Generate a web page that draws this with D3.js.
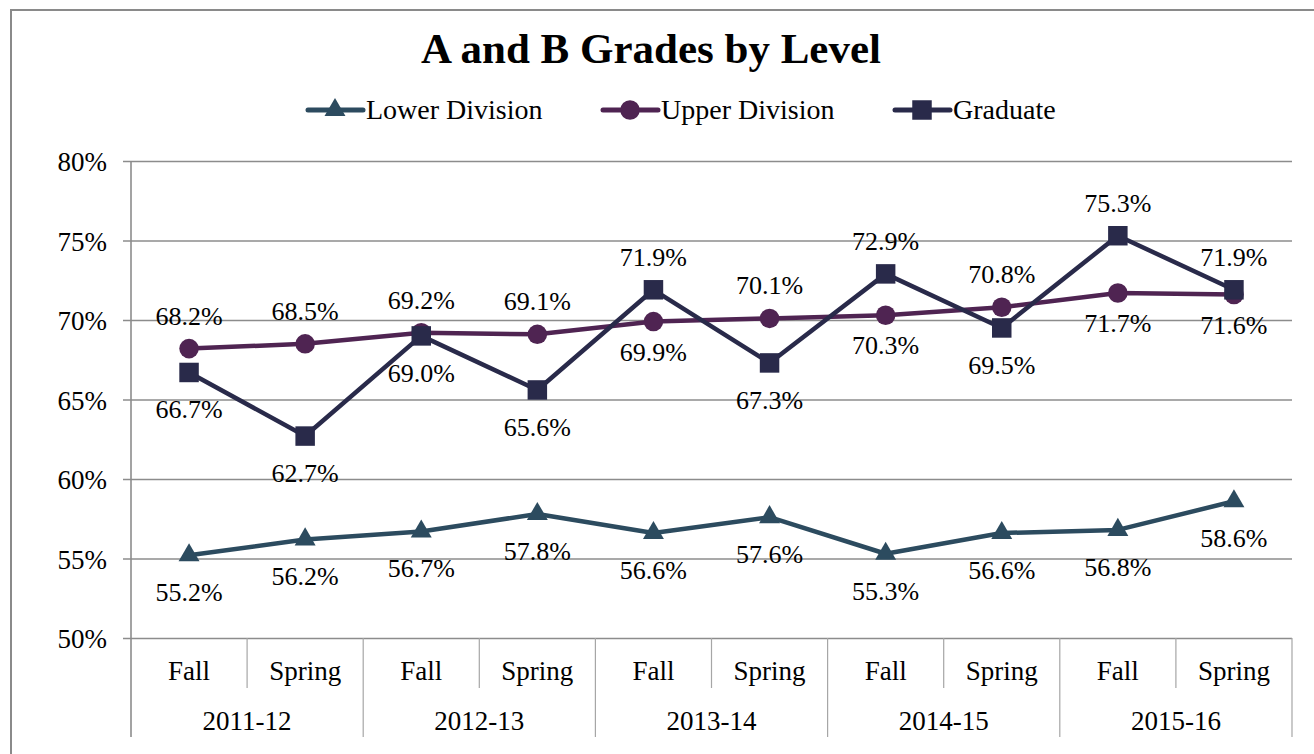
<!DOCTYPE html>
<html>
<head>
<meta charset="utf-8">
<script src="https://cdn.jsdelivr.net/npm/d3@7"></script>
<style>
  body { margin: 0; background: #fff; }
  text { font-family: "Liberation Serif", "Times New Roman", serif; fill: #000; }
</style>
</head>
<body>
<script>
// data
var terms = ["Fall", "Spring", "Fall", "Spring", "Fall", "Spring", "Fall", "Spring", "Fall", "Spring"]
var years = ["2011-12", "2012-13", "2013-14", "2014-15", "2015-16"]
var lowerDiv = [55.2, 56.2, 56.7, 57.8, 56.6, 57.6, 55.3, 56.6, 56.8, 58.6]
var upperDiv = [68.2, 68.5, 69.2, 69.1, 69.9, 70.1, 70.3, 70.8, 71.7, 71.6]
var graduate = [66.7, 62.7, 69.0, 65.6, 71.9, 67.3, 72.9, 69.5, 75.3, 71.9]
// where excel put each data label
var lowerPos = ["b", "b", "b", "b", "b", "b", "b", "b", "b", "b"]
var upperPos = ["a", "a", "a", "a", "b", "a", "b", "a", "b", "b"]
var gradPos = ["b", "b", "b", "b", "a", "b", "a", "b", "a", "a"]
var yTicks = [50, 55, 60, 65, 70, 75, 80]

var series = [
  {name: "Lower Division", values: lowerDiv, pos: lowerPos, color: "#2c4b5f", shape: d3.symbolTriangle, size: 190, lx: 308, below: 46},
  {name: "Upper Division", values: upperDiv, pos: upperPos, color: "#4f2452", shape: d3.symbolCircle, size: 300, lx: 603, below: 39},
  {name: "Graduate", values: graduate, pos: gradPos, color: "#292a4a", shape: d3.symbolSquare, size: 380, lx: 895, below: 46}
]

var W = 1314, H = 754
var plotL = 131, plotR = 1292, plotT = 161, plotB = 638

var svg = d3.select("body").append("svg")
  .attr("width", W)
  .attr("height", H)

svg.append("rect")
  .attr("x", 11).attr("y", 10)
  .attr("width", 1330).attr("height", 770)
  .attr("fill", "none")
  .attr("stroke", "#8a8a8a")
  .attr("stroke-width", 2)

svg.append("text").text("A and B Grades by Level")
  .attr("x", 651).attr("y", 63)
  .attr("text-anchor", "middle")
  .style("font-size", "43px")
  .style("font-weight", "bold")

var x = d3.scaleBand()
  .domain(d3.range(terms.length))
  .range([plotL, plotR])
  .paddingInner(0).paddingOuter(0)

var y = d3.scaleLinear()
  .domain([50, 80])
  .range([plotB, plotT])

// gridlines + y axis
var yAxis = d3.axisLeft(y)
  .tickValues(yTicks)
  .tickSize(-(plotR - plotL))
  .tickFormat(function(d){ return d + "%" })

var gy = svg.append("g")
  .attr("transform", "translate(" + plotL + ",0)")
  .call(yAxis)
gy.select(".domain").remove()
gy.selectAll("line")
  .attr("x1", -8)
  .attr("stroke", "#8c8c8c")
  .attr("stroke-width", 1.6)
gy.selectAll("text")
  .attr("x", -24)
  .attr("dy", "0.36em")
  .style("font-size", "27px")

// category axis lines
var bw = x.bandwidth()
svg.append("line")
  .attr("x1", plotL).attr("x2", plotL)
  .attr("y1", plotT).attr("y2", 737)
  .attr("stroke", "#8c8c8c").attr("stroke-width", 1.6)

svg.selectAll(".sep")
  .data(d3.range(1, terms.length + 1))
  .enter()
  .append("line")
  .attr("x1", function(i){ return plotL + i * bw })
  .attr("x2", function(i){ return plotL + i * bw })
  .attr("y1", plotB)
  .attr("y2", function(i){ return i % 2 == 0 ? 737 : 688 })
  .attr("stroke", "#a6a6a6").attr("stroke-width", 1.2)

svg.selectAll(".term")
  .data(terms)
  .enter()
  .append("text")
  .text(function(d){ return d })
  .attr("x", function(d, i){ return x(i) + bw / 2 })
  .attr("y", 680)
  .attr("text-anchor", "middle")
  .style("font-size", "27px")

svg.selectAll(".year")
  .data(years)
  .enter()
  .append("text")
  .text(function(d){ return d })
  .attr("x", function(d, i){ return x(i * 2) + bw })
  .attr("y", 730)
  .attr("text-anchor", "middle")
  .style("font-size", "27px")

// series
var line = d3.line()
  .x(function(d, i){ return x(i) + bw / 2 })
  .y(function(d){ return y(d) })

series.forEach(function(s){
  svg.append("path")
    .datum(s.values)
    .attr("d", line)
    .attr("fill", "none")
    .attr("stroke", s.color)
    .attr("stroke-width", 4.5)
    .attr("stroke-linejoin", "round")

  svg.selectAll(null)
    .data(s.values)
    .enter()
    .append("path")
    .attr("d", d3.symbol().type(s.shape).size(s.size))
    .attr("fill", s.color)
    .attr("transform", function(d, i){
      return "translate(" + (x(i) + bw / 2) + "," + y(d) + ")"
    })
})

series.forEach(function(s){
  svg.selectAll(null)
    .data(s.values)
    .enter()
    .append("text")
    .text(function(d){ return d.toFixed(1) + "%" })
    .attr("x", function(d, i){ return x(i) + bw / 2 })
    .attr("y", function(d, i){ return y(d) + (s.pos[i] == "a" ? -24 : s.below) })
    .attr("text-anchor", "middle")
    .style("font-size", "26px")
})

// legend
series.forEach(function(s){
  var g = svg.append("g")
  g.append("line")
    .attr("x1", s.lx).attr("x2", s.lx + 55)
    .attr("y1", 110).attr("y2", 110)
    .attr("stroke", s.color)
    .attr("stroke-width", 5)
    .attr("stroke-linecap", "round")
  g.append("path")
    .attr("d", d3.symbol().type(s.shape).size(s.size))
    .attr("fill", s.color)
    .attr("transform", "translate(" + (s.lx + 27) + ",110)")
  g.append("text").text(s.name)
    .attr("x", s.lx + 58)
    .attr("y", 119)
    .style("font-size", "28px")
})
</script>
</body>
</html>
